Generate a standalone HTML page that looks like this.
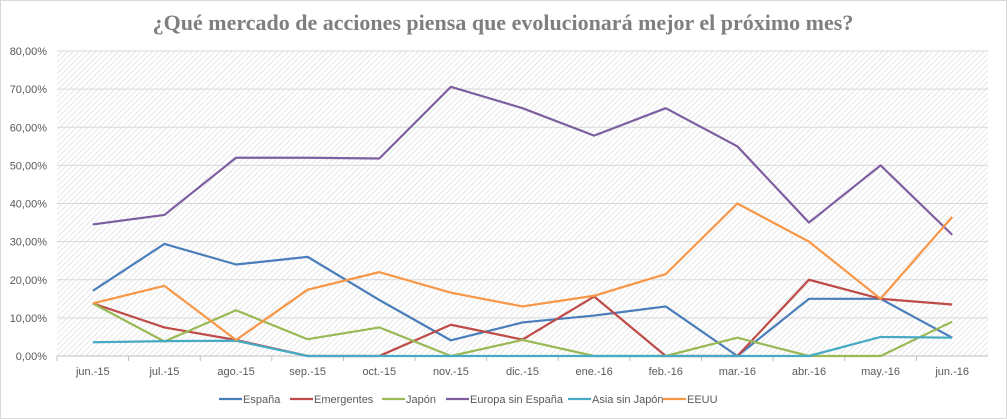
<!DOCTYPE html>
<html><head><meta charset="utf-8"><style>
body{margin:0;background:#fff}
svg{display:block;font-family:"Liberation Sans",sans-serif}
</style></head><body>
<svg id="c" width="1007" height="419">
<defs><pattern id="h" width="4" height="4" patternUnits="userSpaceOnUse" patternTransform="rotate(45)"><line x1="0" y1="0" x2="0" y2="4" stroke="#d0d0d0" stroke-width="1"/></pattern></defs>
<rect x="0.5" y="0.5" width="1006" height="418" fill="#fff" stroke="#d9d9d9"/>
<text x="503" y="30" text-anchor="middle" font-family="Liberation Serif,serif" font-weight="bold" font-size="22" fill="#7f7f7f">¿Qué mercado de acciones piensa que evolucionará mejor el próximo mes?</text>
<rect x="57" y="51" width="931" height="305" fill="url(#h)"/>
<g id="g"></g>
</svg>
<script>
const categories=["jun.-15","jul.-15","ago.-15","sep.-15","oct.-15","nov.-15","dic.-15","ene.-16","feb.-16","mar.-16","abr.-16","may.-16","jun.-16"];
const seriesNames=["España","Emergentes","Japón","Europa sin España","Asia sin Japón","EEUU"];
const colors=["#4a7ebb","#be4b48","#98b954","#7d5fa0","#46aac5","#f79646"];
const espana=[17.1,29.4,24,26,14.7,4.1,8.8,10.6,13,0,15,15,4.8];
const emergentes=[13.8,7.5,4.2,0,0,8.2,4.3,15.6,0,0,20,15,13.5];
const japon=[13.8,3.8,12,4.4,7.5,0,4.2,0,0,4.8,0,0,9];
const europa=[34.5,37,52,52,51.8,70.6,65,57.8,65,55,35,50,31.8];
const asia=[3.6,3.9,4,0,0,0,0,0,0,0,0,5,4.8];
const eeuu=[13.8,18.4,4.2,17.4,22,16.6,13,15.8,21.5,40,30,15,36.5];
const yTicks=[0,10,20,30,40,50,60,70,80];
const series=[espana,emergentes,japon,europa,asia,eeuu];
const X0=57,W=931,Y0=356,H=305;
const x=i=>X0+W/categories.length*(i+0.5);
const y=v=>Y0-v/80*H;
const g=document.getElementById('g'),NS="http://www.w3.org/2000/svg";
function mk(t,a,txt){const e=document.createElementNS(NS,t);for(const k in a)e.setAttribute(k,a[k]);if(txt!=null)e.textContent=txt;g.appendChild(e);return e;}
yTicks.forEach(v=>{
 const l=mk('line',{x1:X0,x2:X0+W,y1:y(v),y2:y(v),stroke:v?'#d9d9d9':'#bfbfbf'});
 
 
 const t=mk('text',{x:47,y:y(v)+4,'text-anchor':'end','font-size':11,fill:'#595959'},v.toFixed(2).replace('.',',')+'%');
 
 
});
categories.forEach((c,i)=>{
 const tk=mk('line',{x1:X0+W/13*i,x2:X0+W/13*i,y1:Y0,y2:Y0+5,stroke:'#bfbfbf'});
 
 
 const t=mk('text',{x:x(i),y:375,'text-anchor':'middle','font-size':11,fill:'#595959'},c);
 
 
});
series.forEach((s,k)=>{
 const p=mk('polyline',{points:s.map((v,i)=>x(i)+','+y(v)).join(' '),fill:'none',stroke:colors[k],'stroke-width':2.2,'stroke-linejoin':'round'});
 
 
});
const lx=[219,290,382,446,568,663];
seriesNames.forEach((n,k)=>{
 const l=mk('line',{x1:lx[k],x2:lx[k]+23,y1:399,y2:399,stroke:colors[k],'stroke-width':2.2});
 
 
 const t=mk('text',{x:lx[k]+24,y:403,'font-size':11,fill:'#595959'},n);
 
 
});
</script>
</body></html>
